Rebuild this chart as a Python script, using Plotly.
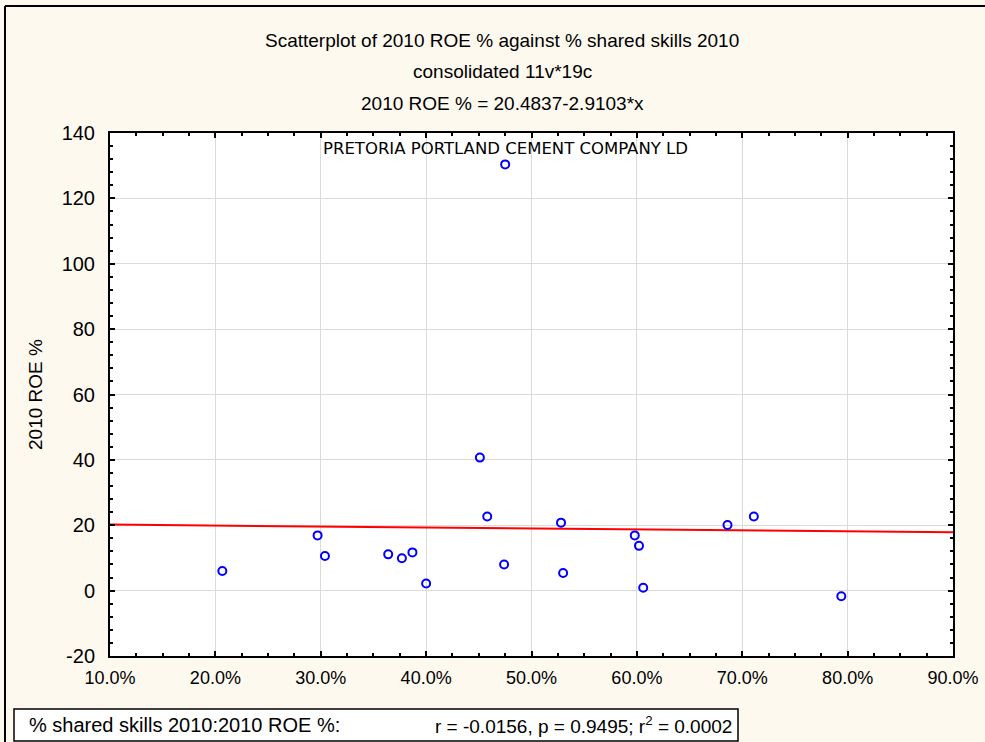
import plotly.graph_objects as go

# Data (x = % shared skills as fraction, y = 2010 ROE %)
shared_skills = [0.2066, 0.297, 0.304, 0.364, 0.377, 0.387, 0.400, 0.451, 0.458, 0.474,
                 0.528, 0.530, 0.598, 0.602, 0.606, 0.686, 0.711, 0.794, 0.475]
roe_2010 = [6.0, 16.9, 10.6, 11.1, 9.9, 11.7, 2.2, 40.7, 22.7, 8.0,
            20.8, 5.4, 16.9, 13.7, 0.9, 20.1, 22.7, -1.7, 130.4]
label_company = "PRETORIA PORTLAND CEMENT COMPANY LD"
label_index = 18

intercept = 20.4837
slope = -2.9103
x_range = [0.1, 0.9]
y_range = [-20, 140]
x_ticks = [0.1, 0.2, 0.3, 0.4, 0.5, 0.6, 0.7, 0.8, 0.9]
y_ticks = [-20, 0, 20, 40, 60, 80, 100, 120, 140]
y_tick_labels = ["-20", "0", "20", "40", "60", "80", "100", "120", "140"]

title_lines = ["Scatterplot of 2010 ROE % against % shared skills 2010",
               "consolidated 11v*19c",
               "2010 ROE % = 20.4837-2.9103*x"]
stats_left = "% shared skills 2010:2010 ROE %:"
stats_right = "r = -0.0156, p = 0.9495; r<sup>2</sup> = 0.0002"

W, H = 985, 742
L, R, T, B = 110, 32, 133, 86
pw, ph = W - L - R, H - T - B

def px_x(p):
    return (p - L) / pw

def px_y(p):
    return (H - B - p) / ph

FONT = "Liberation Sans, Arial, sans-serif"
BG = "#FDF9EF"

fig = go.Figure()
fig.add_trace(go.Scatter(
    x=x_range, y=[intercept + slope * v for v in x_range],
    mode="lines", line=dict(color="#FF0000", width=2), hoverinfo="skip"))
fig.add_trace(go.Scatter(
    x=shared_skills, y=roe_2010, mode="markers",
    marker=dict(symbol="circle-open", size=8, color="#0000FF", line=dict(width=2, color="#0000FF"))))

fig.add_annotation(x=shared_skills[label_index], y=roe_2010[label_index], text=label_company,
                   showarrow=False, yshift=16,
                   font=dict(family="DejaVu Sans, Verdana", size=16.5, color="black"))

for t, yp in zip(title_lines, [40, 72, 103]):
    fig.add_annotation(xref="paper", yref="paper", x=px_x(502), y=px_y(yp), text=t,
                       showarrow=False, xanchor="center", yanchor="middle",
                       font=dict(family=FONT, size=19, color="black"))

# statistics box
fig.add_shape(type="rect", xref="paper", yref="paper",
              x0=px_x(14), x1=px_x(738), y0=px_y(709), y1=px_y(741),
              fillcolor="white", line=dict(color="black", width=1.5))
fig.add_annotation(xref="paper", yref="paper", x=px_x(27), y=px_y(725), text=stats_left,
                   showarrow=False, xanchor="left", yanchor="middle",
                   font=dict(family=FONT, size=20, color="black"))
fig.add_annotation(xref="paper", yref="paper", x=px_x(734), y=px_y(725), text=stats_right,
                   showarrow=False, xanchor="right", yanchor="middle",
                   font=dict(family=FONT, size=19, color="black"))

# outer frame lines (left and top)
fig.add_shape(type="line", xref="paper", yref="paper", x0=px_x(5), x1=px_x(5), y0=px_y(6), y1=px_y(742),
              line=dict(color="black", width=2))
fig.add_shape(type="line", xref="paper", yref="paper", x0=px_x(5), x1=px_x(985), y0=px_y(6), y1=px_y(6),
              line=dict(color="black", width=2))

axis_common = dict(showline=True, linecolor="black", linewidth=2, mirror="allticks",
                   ticks="inside", ticklen=5, tickcolor="black", tickwidth=1.5,
                   showgrid=True, gridcolor="#DADADA", gridwidth=1, zeroline=False)

fig.update_xaxes(range=x_range, tickvals=x_ticks, tickformat=".1%", ticklabelstandoff=4,
                 tickfont=dict(family=FONT, size=18, color="black"),
                 minor=dict(dtick=0.025, ticks="inside", ticklen=3, tickcolor="black", showgrid=False),
                 **axis_common)
fig.update_yaxes(range=y_range, tickvals=y_ticks, ticktext=y_tick_labels, ticklabelstandoff=9,
                 tickfont=dict(family=FONT, size=20, color="black"),
                 title=dict(text="2010 ROE %", font=dict(family=FONT, size=19, color="black"), standoff=14),
                 minor=dict(dtick=4, ticks="inside", ticklen=3, tickcolor="black", showgrid=False),
                 **axis_common)

fig.update_layout(width=W, height=H, margin=dict(l=L, r=R, t=T, b=B, autoexpand=False),
                  paper_bgcolor=BG, plot_bgcolor="white", showlegend=False)

fig.write_html("out.html")
